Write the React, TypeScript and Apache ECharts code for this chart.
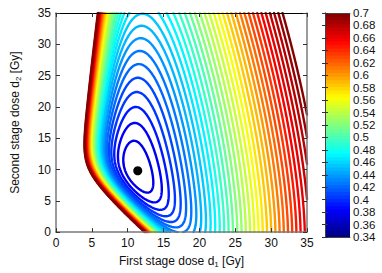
import React, { useEffect, useRef } from "react";
import * as echarts from "echarts";

// ---- data ----
const contourLevels = [
  0.349, 0.358, 0.367, 0.376, 0.385, 0.394, 0.403, 0.412, 0.421, 0.43,
  0.439, 0.448, 0.457, 0.466, 0.475, 0.484, 0.493, 0.502, 0.511, 0.52,
  0.529, 0.538, 0.547, 0.556, 0.565, 0.574, 0.583, 0.592, 0.601, 0.61,
  0.619, 0.628, 0.637, 0.646, 0.655, 0.664, 0.673, 0.682, 0.691, 0.7,
];
const colorbarTicks = [
  0.34, 0.36, 0.38, 0.4, 0.42, 0.44, 0.46, 0.48, 0.5, 0.52, 0.54, 0.56,
  0.58, 0.6, 0.62, 0.64, 0.66, 0.68, 0.7,
];
const colorRange = [0.34, 0.7];
const optimumPoint = [11.4, 9.8];

// surface model fitted to the drawn contours (objective vs d1, d2)
const rampSlope = 0.01545; // growth to the right
const tiltCoef = 0.0193; // tilt of right-hand contours
const tiltExp = 1.585;
const rampOffset = 0.128;
const valleyLine = [9.84, 0.062]; // valley d1 at d2=0, slope
const softDecay = 3.9;
const hardAmp = 0.1;
const hardLine = [4.42, 0.085]; // hard wall d1 at d2=17.8, slope
const hardDecay = 1.0;
const diagAmp = 0.361;
const diagK = 0.9;
const diagC = 12.3;
const diagDecay = 1.88;

function objective(d1: number, d2: number): number {
  const base = rampSlope * (d1 + tiltCoef * Math.pow(d2, tiltExp)) + rampOffset;
  const v = valleyLine[0] + valleyLine[1] * d2;
  const soft = rampSlope * softDecay * Math.exp(-(d1 - v) / softDecay);
  const xh = hardLine[0] + hardLine[1] * (d2 - 17.8);
  const hard = hardAmp * Math.exp(-(d1 - xh) / hardDecay);
  const diag = diagAmp * Math.exp(-(d1 + diagK * d2 - diagC) / diagDecay);
  return base + soft + hard + diag;
}

function jet(v: number): string {
  const n = 64;
  let idx = Math.floor(((v - colorRange[0]) / (colorRange[1] - colorRange[0])) * n);
  idx = Math.max(0, Math.min(n - 1, idx));
  const x = (idx + 0.5) / n;
  const c = (t: number) => Math.max(0, Math.min(1, t));
  const r = c(1.5 - Math.abs(4 * x - 3));
  const g = c(1.5 - Math.abs(4 * x - 2));
  const b = c(1.5 - Math.abs(4 * x - 1));
  return `rgb(${Math.round(r * 255)},${Math.round(g * 255)},${Math.round(b * 255)})`;
}

function buildContours() {
  const N = 211;
  const xs: number[] = [];
  const ys: number[] = [];
  for (let i = 0; i < N; i++) {
    xs.push((35 * i) / (N - 1));
    ys.push((35 * i) / (N - 1));
  }
  const F: number[][] = [];
  for (let j = 0; j < N; j++) {
    const row: number[] = [];
    for (let i = 0; i < N; i++) row.push(objective(xs[i], ys[j]));
    F.push(row);
  }
  const out: any[] = [];
  for (const L of contourLevels) {
    const P = new Map<string, number[]>();
    const segs: [string, string][] = [];
    const hKey = (i: number, j: number) => {
      const k = `h${i}_${j}`;
      if (!P.has(k)) {
        const a = F[j][i], b = F[j][i + 1];
        const t = (L - a) / (b - a);
        P.set(k, [xs[i] + t * (xs[i + 1] - xs[i]), ys[j]]);
      }
      return k;
    };
    const vKey = (i: number, j: number) => {
      const k = `v${i}_${j}`;
      if (!P.has(k)) {
        const a = F[j][i], b = F[j + 1][i];
        const t = (L - a) / (b - a);
        P.set(k, [xs[i], ys[j] + t * (ys[j + 1] - ys[j])]);
      }
      return k;
    };
    for (let j = 0; j < N - 1; j++) {
      for (let i = 0; i < N - 1; i++) {
        const v0 = F[j][i], v1 = F[j][i + 1], v2 = F[j + 1][i + 1], v3 = F[j + 1][i];
        const b0 = v0 > L, b1 = v1 > L, b2 = v2 > L, b3 = v3 > L;
        if (b0 === b1 && b1 === b2 && b2 === b3) continue;
        const e: (string | null)[] = [
          b0 !== b1 ? hKey(i, j) : null,
          b1 !== b2 ? vKey(i + 1, j) : null,
          b3 !== b2 ? hKey(i, j + 1) : null,
          b0 !== b3 ? vKey(i, j) : null,
        ];
        const present = e.filter((x) => x !== null) as string[];
        if (present.length === 2) segs.push([present[0], present[1]]);
        else if (present.length === 4) {
          const cv = (v0 + v1 + v2 + v3) / 4 > L;
          if (cv === b0) {
            segs.push([e[0]!, e[1]!]);
            segs.push([e[2]!, e[3]!]);
          } else {
            segs.push([e[0]!, e[3]!]);
            segs.push([e[1]!, e[2]!]);
          }
        }
      }
    }
    const adj = new Map<string, number[]>();
    segs.forEach((s, k) => {
      for (const key of s) {
        if (!adj.has(key)) adj.set(key, []);
        adj.get(key)!.push(k);
      }
    });
    const used = new Uint8Array(segs.length);
    const color = jet(L);
    for (let k = 0; k < segs.length; k++) {
      if (used[k]) continue;
      used[k] = 1;
      const chain = [segs[k][0], segs[k][1]];
      let cur = segs[k][1];
      for (;;) {
        const nb = (adj.get(cur) || []).find((m) => !used[m]);
        if (nb === undefined) break;
        used[nb] = 1;
        const s = segs[nb];
        cur = s[0] === cur ? s[1] : s[0];
        chain.push(cur);
      }
      cur = segs[k][0];
      const head: string[] = [];
      for (;;) {
        const nb = (adj.get(cur) || []).find((m) => !used[m]);
        if (nb === undefined) break;
        used[nb] = 1;
        const s = segs[nb];
        cur = s[0] === cur ? s[1] : s[0];
        head.push(cur);
      }
      const full = head.reverse().concat(chain);
      out.push({ coords: full.map((key) => P.get(key)), lineStyle: { color } });
    }
  }
  return out;
}

export default function App() {
  const ref = useRef<HTMLDivElement>(null);
  useEffect(() => {
    if (!ref.current) return;
    const chart = echarts.init(ref.current, undefined, { renderer: "svg" });
    const font = "Liberation Sans, Arial, sans-serif";
    const contourData = buildContours();
    const nBands = 64;
    const bands: number[][] = [];
    for (let i = 0; i < nBands; i++) {
      const lo = colorRange[0] + ((colorRange[1] - colorRange[0]) * i) / nBands;
      const hi = colorRange[0] + ((colorRange[1] - colorRange[0]) * (i + 1)) / nBands;
      bands.push([lo, hi]);
    }
    const gray = "#7a7a7a";
    const mainAxis = (pos: string, label: boolean, color: string, width: number, gi: number) => ({
      type: "value",
      gridIndex: gi,
      position: pos,
      min: 0,
      max: 35,
      interval: 5,
      z: 10,
      axisLine: { show: true, onZero: false, lineStyle: { color, width } },
      axisTick: { show: true, inside: true, length: 4, lineStyle: { color: "#333" } },
      axisLabel: { show: label, fontSize: 12, color: "#111", fontFamily: font, margin: 5 },
      splitLine: { show: false },
    });
    const rich = {
      a: { fontSize: 12, fontFamily: font, color: "#111", lineHeight: 14 },
      s: { fontSize: 8, fontFamily: font, color: "#111", lineHeight: 8, verticalAlign: "bottom", padding: [6, 0, 0, 0] },
    };
    chart.setOption({
      animation: false,
      backgroundColor: "#fff",
      grid: [
        { left: 46, top: 13, width: 261, height: 224 },
        { left: 325, top: 13, width: 25, height: 224 },
      ],
      xAxis: [
        {
          ...mainAxis("bottom", true, gray, 1.5, 0),
          name: "{a|First stage dose d}{s|1}{a| [Gy]}",
          nameLocation: "middle",
          nameGap: 19,
          nameTextStyle: { rich },
        },
        mainAxis("top", false, "#000", 1, 0),
        {
          type: "value", gridIndex: 1, min: 0, max: 1, position: "bottom", z: 10,
          axisLine: { show: true, lineStyle: { color: "#444" } }, axisTick: { show: false }, axisLabel: { show: false }, splitLine: { show: false },
        },
        {
          type: "value", gridIndex: 1, min: 0, max: 1, position: "top", z: 10,
          axisLine: { show: true, lineStyle: { color: "#444" } }, axisTick: { show: false }, axisLabel: { show: false }, splitLine: { show: false },
        },
      ],
      yAxis: [
        {
          ...mainAxis("left", true, gray, 1.5, 0),
          name: "{a|Second stage dose d}{s|2}{a| [Gy]}",
          nameLocation: "middle",
          nameGap: 34,
          nameRotate: 90,
          nameTextStyle: { rich },
        },
        mainAxis("right", false, gray, 1.5, 0),
        {
          type: "value", gridIndex: 1, min: 0.34, max: 0.7, interval: 0.02, position: "right", z: 10,
          axisLine: { show: true, lineStyle: { color: "#444" } },
          axisTick: { show: true, inside: true, length: 3, lineStyle: { color: "#333" } },
          axisLabel: {
            fontSize: 11.5, fontFamily: font, color: "#111", margin: 3,
            formatter: (v: number) => {
              const hit = colorbarTicks.find((t) => Math.abs(t - v) < 1e-6);
              return hit === undefined ? "" : String(+hit.toFixed(2));
            },
          },
          splitLine: { show: false },
        },
        {
          type: "value", gridIndex: 1, min: 0.34, max: 0.7, interval: 0.02, position: "left", z: 10,
          axisLine: { show: true, lineStyle: { color: "#444" } },
          axisTick: { show: true, inside: true, length: 3, lineStyle: { color: "#333" } },
          axisLabel: { show: false }, splitLine: { show: false },
        },
      ],
      series: [
        {
          type: "lines",
          coordinateSystem: "cartesian2d",
          xAxisIndex: 0,
          yAxisIndex: 0,
          polyline: true,
          silent: true,
          z: 2,
          lineStyle: { width: 2.4, opacity: 1, join: "round", cap: "round" },
          data: contourData,
        },
        {
          type: "scatter",
          xAxisIndex: 0,
          yAxisIndex: 0,
          symbolSize: 9,
          itemStyle: { color: "#000", opacity: 1 },
          z: 5,
          data: [optimumPoint],
        },
        {
          type: "custom",
          xAxisIndex: 2,
          yAxisIndex: 2,
          z: 2,
          data: bands,
          renderItem: (params: any, api: any) => {
            const lo = api.value(0);
            const hi = api.value(1);
            const p0 = api.coord([0, lo]);
            const p1 = api.coord([1, hi]);
            return {
              type: "rect",
              shape: { x: p0[0], y: p1[1], width: p1[0] - p0[0], height: p0[1] - p1[1] + 0.6 },
              style: { fill: jet((lo + hi) / 2), stroke: null },
            };
          },
        },
      ],
    });
    return () => chart.dispose();
  }, []);
  return <div ref={ref} style={{ position: "absolute", left: 0, top: 0, width: 382, height: 273 }} />;
}
